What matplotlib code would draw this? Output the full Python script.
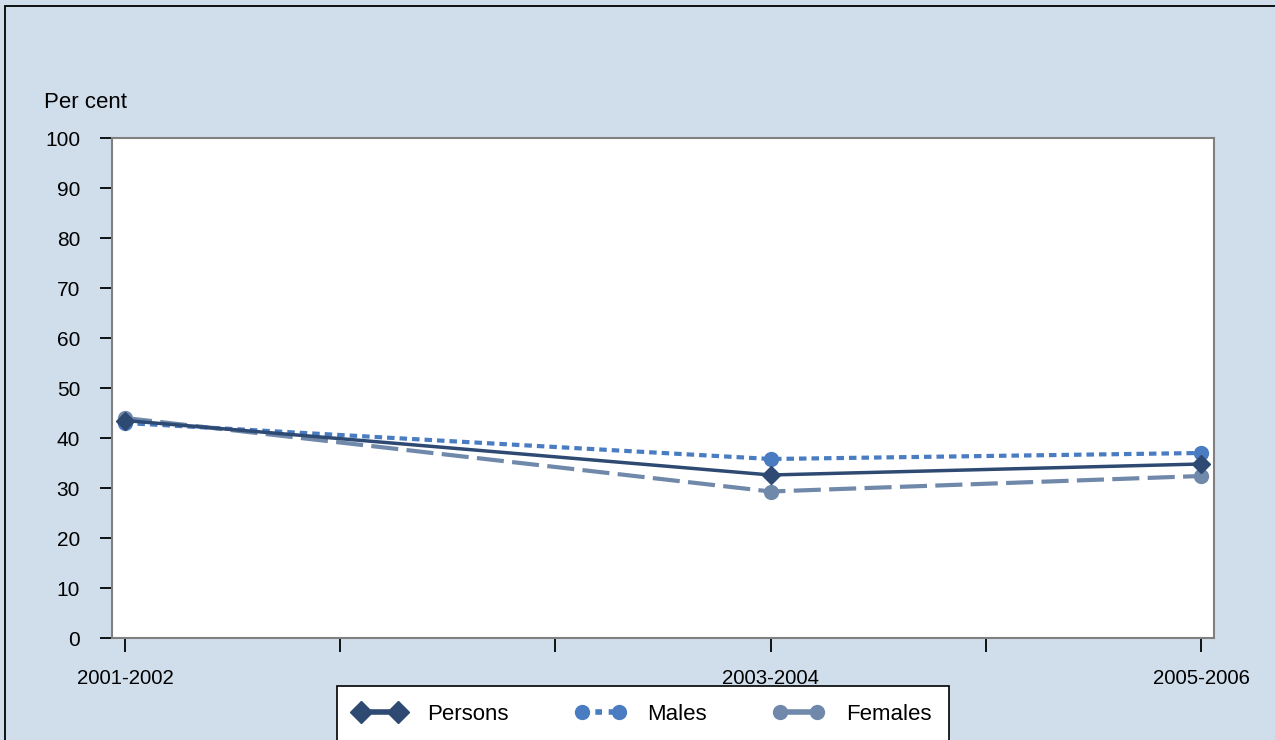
import matplotlib
matplotlib.use("Agg")
import matplotlib.pyplot as plt
from matplotlib.patches import Rectangle
from matplotlib.lines import Line2D

periods = ["2001-2002", "2003-2004", "2005-2006"]
period_pos = [0, 3, 5]
tick_pos = [0, 1, 2, 3, 4, 5]
tick_labels = ["2001-2002", "", "", "2003-2004", "", "2005-2006"]
persons = [43.5, 32.6, 34.8]
males = [43.0, 35.8, 37.0]
females = [44.0, 29.3, 32.4]
yticks = [0, 10, 20, 30, 40, 50, 60, 70, 80, 90, 100]

plt.rcParams['font.family'] = ['Liberation Sans', 'DejaVu Sans']

W, H = 1275, 740
fig = plt.figure(figsize=(W/100, H/100), dpi=100)
bg = "#D0DEEC"
fig.patch.set_facecolor(bg)

# outer frame
fig.patches.append(Rectangle((5/W, -0.05), 1.1, 1 - 6/H + 0.05, transform=fig.transFigure,
                             fill=False, edgecolor="black", linewidth=1.3))

ax = fig.add_axes([112/W, 1 - 638/H, (1214-112)/W, (638-138)/H])
ax.set_facecolor("white")

c_p, c_m, c_f = "#2E4A72", "#4A7CC2", "#7089AA"
ax.plot(period_pos, females, color=c_f, lw=3, ls=(0, (6.5, 2)), marker='o', ms=10, label="Females", zorder=3)
ax.plot(period_pos, males, color=c_m, lw=3, ls=(0, (1.8, 1.2)), marker='o', ms=10, label="Males", zorder=4)
ax.plot(period_pos, persons, color=c_p, lw=2.5, ls='-', marker='D', ms=9, label="Persons", zorder=5)

ax.set_xlim(-13/215.2, 5 + 13/215.2)
ax.set_ylim(0, 100)
ax.set_yticks(yticks)
ax.set_xticks(tick_pos)
ax.set_xticklabels(tick_labels)
for s in ax.spines.values():
    s.set_color("#808080")
    s.set_linewidth(1.5)
ax.tick_params(axis='y', direction='out', length=9, width=1.3, color='black', pad=14, labelsize=15)
ax.tick_params(axis='x', direction='out', length=10, width=1.3, color='black', pad=12, labelsize=14.7)

fig.text(85/W, 1 - 103/H, "Per cent", ha='center', va='center', fontsize=16)

handles = [
    Line2D([], [], color=c_p, lw=4, marker='D', ms=11, ls='-'),
    Line2D([], [], color=c_m, lw=4, marker='o', ms=10, ls=(0, (1.2, 1.2))),
    Line2D([], [], color=c_f, lw=4, marker='o', ms=10, ls='-'),
]
leg = fig.legend(handles, ["Persons", "Males", "Females"], loc='upper left',
                 bbox_to_anchor=(337/W, 1 - 686/H), ncol=3, frameon=True, fancybox=False,
                 edgecolor='black', fontsize=16, handlelength=2.25, handletextpad=1.0,
                 columnspacing=3.0, borderpad=0.8, numpoints=2, borderaxespad=0,
                 framealpha=1)
leg.get_frame().set_linewidth(1.2)
leg.get_frame().set_facecolor("white")

fig.savefig("out.png", dpi=100, facecolor=bg)
